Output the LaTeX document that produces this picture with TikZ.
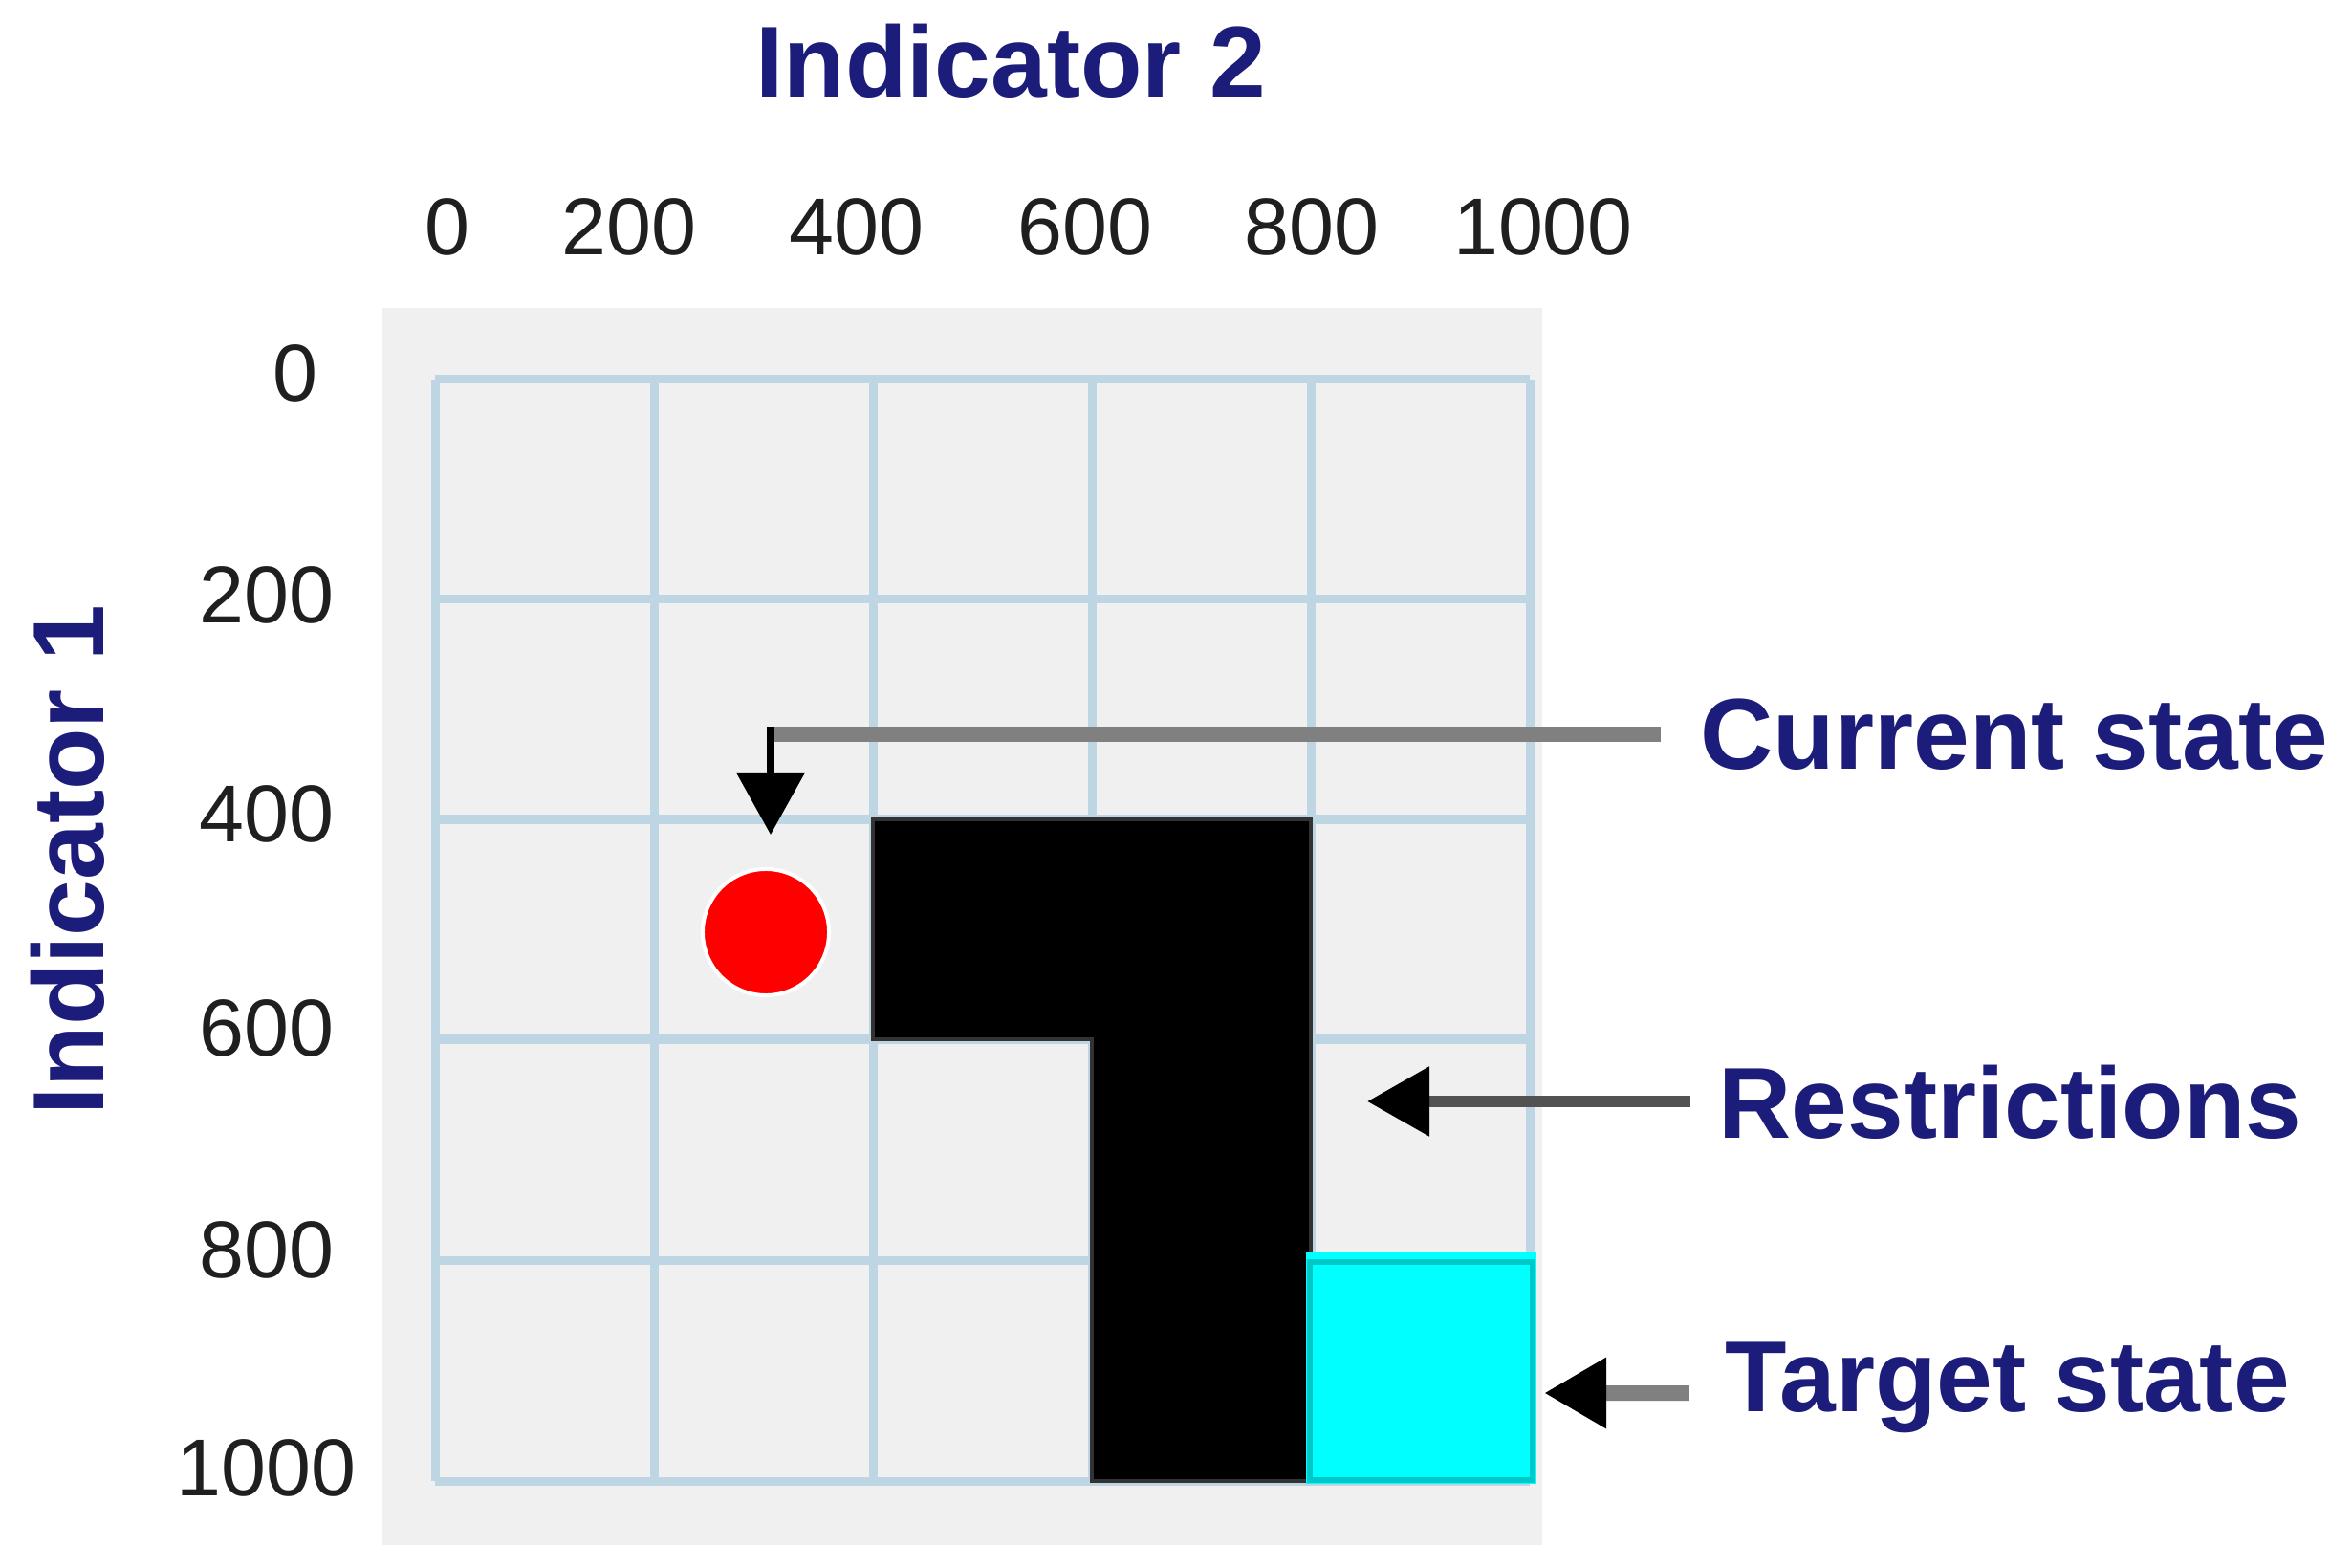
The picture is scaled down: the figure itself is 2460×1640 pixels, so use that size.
\documentclass[tikz,border=0pt]{standalone}
\usepackage{fontspec}
\setmainfont{Liberation Sans}
\usetikzlibrary{arrows.meta}
\definecolor{navy}{RGB}{28,28,122}
\definecolor{bggray}{RGB}{240,240,240}
\definecolor{gridblue}{RGB}{190,214,228}
\definecolor{tgtfill}{RGB}{0,255,255}
\definecolor{tgtborder}{RGB}{0,200,200}
\tikzset{
  tick/.style={font=\fontsize{24}{28}\selectfont, text=black!88, inner sep=0pt},
  bigtxt/.style={font=\fontsize{30}{36}\selectfont\bfseries, text=navy, inner sep=0pt},
  lbl/.style={bigtxt, anchor=west, inner xsep=0pt, text depth=0pt},
  headtip/.style={-{Triangle[length=0.65cm,width=0.7cm,color=black]}},
  gridline/.style={draw=gridblue, line width=0.09cm},
}
\begin{document}
\begin{tikzpicture}[x=0.01cm,y=-0.01cm]
\useasboundingbox (0,0) rectangle (2460,1640);
% background panel
\fill[bggray] (400,322) rectangle (1613,1616);
% grid
\foreach \x in {455,684,913,1142,1371,1600}
  \draw[gridline] (\x,397) -- (\x,1549);
\foreach \y in {397,627,857,1087,1318,1549}
  \draw[gridline] (455,\y) -- (1600,\y);
% restriction L shape
\filldraw[fill=black, draw=black!80, line width=0.04cm]
  (913,857) -- (1371,857) -- (1371,1549) -- (1142,1549) -- (1142,1087) -- (913,1087) -- cycle;
% target state
\fill[tgtfill] (1366,1310) rectangle (1607,1552);
\draw[tgtborder, line width=0.06cm] (1370,1320) rectangle (1603,1548);
% current state
\node[circle, fill=red, draw=white, line width=0.04cm, minimum size=1.32cm, inner sep=0pt] (dot) at (801,975) {};
% titles
\node[bigtxt, anchor=base] (ind2) at (1057,102) {Indicator 2};
\node[bigtxt, anchor=base, rotate=90] (ind1) at (108,900) {Indicator 1};
% top ticks
\node[tick, anchor=base] (t0) at (468,267) {0};
\node[tick, anchor=base] (t200) at (658,267) {200};
\node[tick, anchor=base] (t400) at (896,267) {400};
\node[tick, anchor=base] (t600) at (1135,267) {600};
\node[tick, anchor=base] (t800) at (1372,267) {800};
\node[tick, anchor=base] (t1000) at (1614,267) {1000};
% left ticks
\node[tick, anchor=base east] (l0) at (333,420) {0};
\node[tick, anchor=base east] (l200) at (350,652) {200};
\node[tick, anchor=base east] (l400) at (350,880) {400};
\node[tick, anchor=base east] (l600) at (350,1104) {600};
\node[tick, anchor=base east] (l800) at (350,1336) {800};
\node[tick, anchor=base east] (l1000) at (373,1564) {1000};
% labels
\node[lbl] (cur) at (1778,768) {Current state};
\node[lbl] (res) at (1797,1152) {Restrictions};
\node[lbl] (tgt) at (1804,1440) {Target state};
% connectors
\coordinate (curC) at (806,768);
\coordinate (curTip) at (806,873);
\coordinate (resTip) at (1430,1152);
\coordinate (tgtTip) at (1615,1457);
\draw[draw=black!50, line width=0.16cm] ([xshift=-0.41cm]cur.west) -- (curC);
\draw[black, line width=0.08cm, headtip] ([yshift=0.08cm]curC) -- (curTip);
\draw[draw=black!68, line width=0.12cm, headtip] ([xshift=-0.29cm]res.west) -- (resTip);
\draw[draw=black!50, line width=0.16cm, headtip] ([xshift=-0.37cm, yshift=-0.17cm]tgt.west) -- (tgtTip);
\end{tikzpicture}
\end{document}
